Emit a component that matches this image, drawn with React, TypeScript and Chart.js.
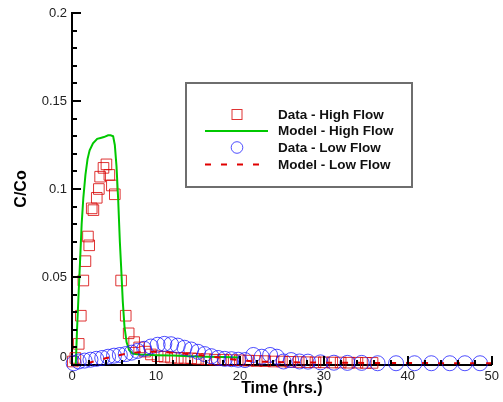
import React, { useEffect, useRef } from 'react';
import { Chart, registerables } from 'chart.js';

Chart.register(...registerables);

// ---- Data ----
const highDataX = [0.1, 0.4, 0.8, 1.05, 1.35, 1.6, 1.9, 2.05, 2.35, 2.55, 2.95, 3.2, 3.35, 3.75, 4.1, 4.45, 4.75, 5.1, 5.85, 6.4, 6.75, 7.4, 8.0, 8.7, 9.4, 10.2, 11.0, 11.8, 12.6, 13.4, 14.2, 15.0, 16.0, 17.0, 18.0, 19.0, 20.0, 21.0, 22.0, 23.0, 24.0, 25.0, 26.0, 27.0, 28.0, 29.0, 30.0, 31.0, 32.0, 33.0, 34.0, 35.0, 35.8];
const highDataY = [0.002, 0.004, 0.012, 0.028, 0.048, 0.059, 0.073, 0.068, 0.089, 0.088, 0.095, 0.1, 0.107, 0.112, 0.114, 0.108, 0.102, 0.097, 0.048, 0.028, 0.018, 0.013, 0.01, 0.0076, 0.006, 0.005, 0.0047, 0.0042, 0.004, 0.004, 0.0038, 0.0035, 0.0033, 0.003, 0.003, 0.0028, 0.0027, 0.0025, 0.0023, 0.0022, 0.002, 0.002, 0.0018, 0.0017, 0.0016, 0.0015, 0.0015, 0.0014, 0.0014, 0.0013, 0.0013, 0.0012, 0.0012];

const highModelX = [0, 0.45, 0.6, 0.8, 0.95, 1.15, 1.35, 1.6, 1.85, 2.1, 2.5, 3.0, 3.4, 3.8, 4.3, 4.6, 4.9, 5.1, 5.3, 5.5, 5.7, 5.85, 6.05, 6.25, 6.5, 6.8, 7.2, 8, 9, 10, 12, 14, 16, 18, 20];
const highModelY = [0, 0, 0.02, 0.042, 0.058, 0.08, 0.095, 0.108, 0.117, 0.122, 0.126, 0.1285, 0.129, 0.1295, 0.1305, 0.1305, 0.13, 0.125, 0.113, 0.094, 0.07, 0.056, 0.036, 0.022, 0.013, 0.0085, 0.0065, 0.006, 0.0058, 0.0056, 0.0054, 0.005, 0.0047, 0.0045, 0.0043];

const lowDataX = [0.2, 0.8, 1.5, 2.2, 2.9, 3.6, 4.3, 5.0, 5.7, 6.4, 7.1, 7.8, 8.6, 9.4, 10.2, 11.0, 11.8, 12.6, 13.4, 14.2, 15.0, 15.8, 16.6, 17.4, 18.2, 19.0, 19.8, 20.6, 21.6, 22.6, 23.6, 24.4, 25.2, 26.1, 27.1, 28.1, 29.6, 31.2, 32.8, 34.5, 36.4, 38.6, 40.8, 42.8, 45.0, 46.8, 48.6];
const lowDataY = [0.001, 0.002, 0.0025, 0.003, 0.0035, 0.004, 0.0047, 0.0053, 0.0057, 0.0062, 0.007, 0.008, 0.0092, 0.0105, 0.0115, 0.012, 0.0118, 0.011, 0.0098, 0.0088, 0.0075, 0.0062, 0.005, 0.004, 0.0035, 0.0033, 0.003, 0.0028, 0.0057, 0.0047, 0.0057, 0.0047, 0.002, 0.0028, 0.002, 0.0019, 0.0015, 0.0013, 0.0012, 0.0012, 0.001, 0.001, 0.001, 0.001, 0.001, 0.001, 0.001];

const lowModelX = [0, 1, 2, 3, 4, 5, 6, 7, 8, 9, 10, 11, 12, 13, 14, 15, 16, 17, 18, 19, 20, 22, 25, 30, 40, 50];
const lowModelY = [0, 0.0003, 0.0012, 0.0025, 0.0038, 0.005, 0.006, 0.0068, 0.0073, 0.0075, 0.0075, 0.0073, 0.007, 0.0066, 0.0062, 0.0057, 0.0052, 0.0046, 0.004, 0.0033, 0.0027, 0.002, 0.0016, 0.0013, 0.0011, 0.001];

const seriesLabels = ['Data - High Flow', 'Model - High Flow', 'Data - Low Flow', 'Model - Low Flow'];

const xMin = 0, xMax = 50, xMajor = 10, xMinor = 2;
const yMin = 0, yMax = 0.2, yMajor = 0.05, yMinor = 0.01;
const xTitle = 'Time (hrs.)';
const yTitle = 'C/Co';

const FONT = '"Liberation Sans", Arial, Helvetica, sans-serif';

const pts = (xs: number[], ys: number[]) => xs.map((x, i) => ({ x, y: ys[i] }));

const tecAxes = {
  id: 'tecAxes',
  afterDraw(chart: any) {
    const { ctx, chartArea } = chart;
    const xs = chart.scales.x;
    const ys = chart.scales.y;
    ctx.save();
    ctx.strokeStyle = '#000';
    ctx.lineWidth = 2;
    const nx = Math.round((xMax - xMin) / xMinor);
    for (let i = 0; i <= nx; i++) {
      const v = xMin + i * xMinor;
      const px = Math.round(xs.getPixelForValue(v));
      const major = Math.abs(v / xMajor - Math.round(v / xMajor)) < 1e-6;
      const len = major ? 9 : 5;
      ctx.beginPath();
      ctx.moveTo(px, chartArea.bottom);
      ctx.lineTo(px, chartArea.bottom - len);
      ctx.stroke();
    }
    const ny = Math.round((yMax - yMin) / yMinor);
    for (let i = 0; i <= ny; i++) {
      const v = yMin + i * yMinor;
      const py = Math.round(ys.getPixelForValue(v));
      const major = Math.abs(v / yMajor - Math.round(v / yMajor)) < 1e-6;
      const len = major ? 9 : 5;
      ctx.beginPath();
      ctx.moveTo(chartArea.left, py);
      ctx.lineTo(chartArea.left + len, py);
      ctx.stroke();
    }
    ctx.fillStyle = '#222';
    ctx.font = `13px ${FONT}`;
    ctx.textAlign = 'right';
    ctx.textBaseline = 'middle';
    ctx.fillText('0', chartArea.left - 5, ys.getPixelForValue(0) - 8);

    const bx = 186, by = 83, bw = 226, bh = 104;
    ctx.fillStyle = '#fff';
    ctx.fillRect(bx, by, bw, bh);
    ctx.strokeStyle = '#6e6e6e';
    ctx.lineWidth = 2;
    ctx.strokeRect(bx, by, bw, bh);
    const rowY = [114.5, 131, 147.5, 164.5];
    const symX = 237;
    chart.data.datasets.forEach((ds: any, i: number) => {
      const y = rowY[i];
      ctx.save();
      if (ds.showLine) {
        ctx.strokeStyle = ds.borderColor;
        ctx.lineWidth = 2;
        ctx.setLineDash(ds.borderDash || []);
        ctx.beginPath();
        ctx.moveTo(205, y);
        ctx.lineTo(268, y);
        ctx.stroke();
      } else if (ds.pointStyle === 'rect') {
        ctx.strokeStyle = ds.borderColor;
        ctx.lineWidth = 1;
        ctx.strokeRect(symX - 5, y - 5, 10, 10);
      } else {
        ctx.strokeStyle = ds.borderColor;
        ctx.lineWidth = 1;
        ctx.beginPath();
        ctx.arc(symX, y, 5.8, 0, Math.PI * 2);
        ctx.stroke();
      }
      ctx.restore();
      ctx.fillStyle = '#111';
      ctx.font = `bold 13.5px ${FONT}`;
      ctx.textAlign = 'left';
      ctx.textBaseline = 'middle';
      ctx.fillText(ds.label, 278, y + 0.5);
    });
    ctx.restore();
  },
};

export default function App() {
  const ref = useRef<HTMLCanvasElement | null>(null);
  useEffect(() => {
    if (!ref.current) return;
    const chart = new Chart(ref.current, {
      type: 'scatter',
      data: {
        datasets: [
          {
            label: seriesLabels[0],
            data: pts(highDataX, highDataY),
            showLine: false,
            pointStyle: 'rect',
            pointRadius: 7.5,
            pointBorderWidth: 1,
            borderColor: 'rgba(215,0,0,0.8)',
            backgroundColor: 'rgba(0,0,0,0)',
            order: 4,
            clip: false as any,
          },
          {
            label: seriesLabels[1],
            data: pts(highModelX, highModelY),
            showLine: true,
            pointRadius: 0,
            borderWidth: 2,
            borderColor: '#00c800',
            backgroundColor: '#00c800',
            order: 3,
          },
          {
            label: seriesLabels[2],
            data: pts(lowDataX, lowDataY),
            showLine: false,
            pointStyle: 'circle',
            pointRadius: 7.5,
            pointBorderWidth: 1,
            borderColor: 'rgba(20,20,255,0.75)',
            backgroundColor: 'rgba(0,0,0,0)',
            order: 2,
            clip: false as any,
          },
          {
            label: seriesLabels[3],
            data: pts(lowModelX, lowModelY),
            showLine: true,
            pointRadius: 0,
            borderWidth: 2,
            borderDash: [6, 10],
            borderColor: '#e00000',
            backgroundColor: '#e00000',
            order: 1,
          },
        ],
      },
      options: {
        animation: false,
        responsive: false,
        devicePixelRatio: 1,
        layout: { padding: { left: 0, top: 13, right: 11, bottom: 0 } },
        plugins: { legend: { display: false }, tooltip: { enabled: false } },
        scales: {
          x: {
            type: 'linear',
            min: xMin,
            max: xMax,
            afterFit: (s: any) => { s.height = 37; },
            grid: { display: false, drawTicks: false },
            border: { display: true, color: '#000', width: 2 },
            ticks: {
              stepSize: xMajor,
              padding: 4,
              color: '#222',
              font: { family: FONT, size: 13 },
              maxRotation: 0,
            },
            title: {
              display: true,
              text: xTitle,
              color: '#000',
              font: { family: FONT, size: 16, weight: 'bold' },
              padding: { top: 0, bottom: 4 },
            },
          },
          y: {
            type: 'linear',
            min: yMin,
            max: yMax,
            afterFit: (s: any) => { s.width = 72; },
            grid: { display: false, drawTicks: false },
            border: { display: true, color: '#000', width: 2 },
            ticks: {
              stepSize: yMajor,
              padding: 5,
              color: '#222',
              font: { family: FONT, size: 13 },
              callback: (v: any) => (Math.abs(v) < 1e-9 ? '' : String(+Number(v).toFixed(2))),
            },
            title: {
              display: true,
              text: yTitle,
              color: '#000',
              font: { family: FONT, size: 16, weight: 'bold' },
              padding: { top: 12, bottom: 0 },
            },
          },
        },
      } as any,
      plugins: [tecAxes],
    });
    return () => chart.destroy();
  }, []);
  return (
    <div style={{ position: 'absolute', left: 0, top: 0, width: 503, height: 402 }}>
      <canvas ref={ref} width={503} height={402} style={{ display: 'block', width: 503, height: 402 }} />
    </div>
  );
}
